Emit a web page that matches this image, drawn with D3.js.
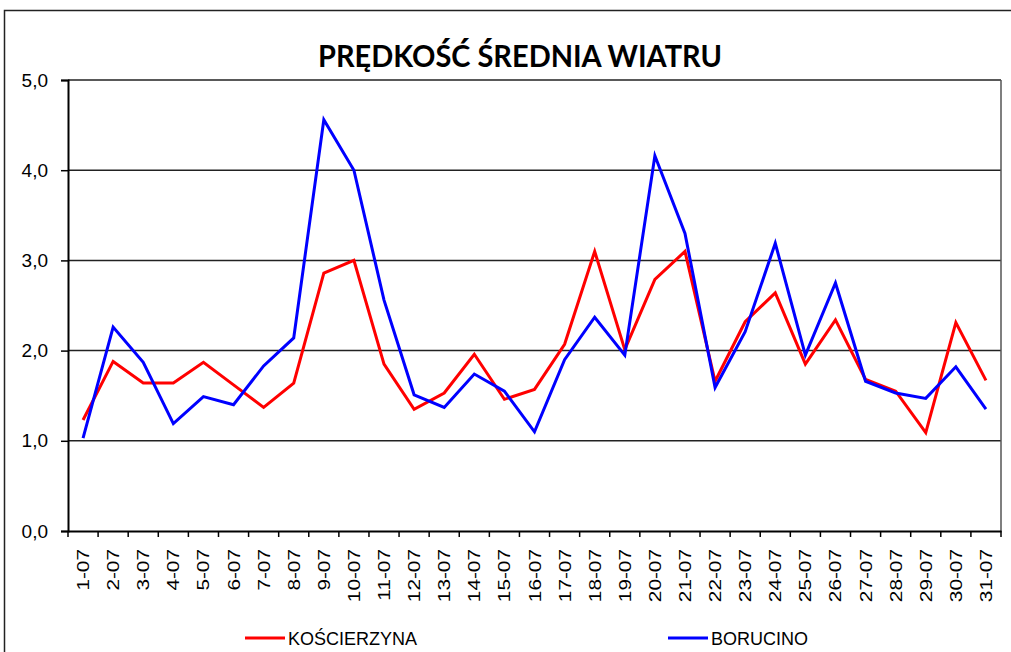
<!DOCTYPE html>
<html>
<head>
<meta charset="utf-8">
<script src="https://cdn.jsdelivr.net/npm/d3@7"></script>
<style>
  body { margin: 0; background: #fff; }
  svg { display: block; font-family: "Liberation Sans", Arial, sans-serif; }
</style>
</head>
<body>
<svg id="chart" width="1011" height="652"></svg>
<script>
// data
const days = ['1-07','2-07','3-07','4-07','5-07','6-07','7-07','8-07','9-07','10-07',
  '11-07','12-07','13-07','14-07','15-07','16-07','17-07','18-07','19-07','20-07',
  '21-07','22-07','23-07','24-07','25-07','26-07','27-07','28-07','29-07','30-07','31-07']
const koscierzyna = [1.23,1.88,1.64,1.64,1.87,1.62,1.37,1.64,2.86,3.00,
  1.85,1.35,1.53,1.96,1.46,1.57,2.07,3.10,2.01,2.79,
  3.10,1.66,2.32,2.64,1.85,2.34,1.68,1.55,1.09,2.31,1.67]
const borucino = [1.03,2.26,1.87,1.19,1.49,1.40,1.83,2.14,4.56,4.00,
  2.56,1.51,1.37,1.74,1.55,1.10,1.90,2.37,1.95,4.16,
  3.30,1.59,2.21,3.19,1.95,2.75,1.66,1.53,1.47,1.82,1.35]
const yTicks = [0,1,2,3,4,5]
const series = [
  { name: 'KOŚCIERZYNA', values: koscierzyna, color: '#ff0000' },
  { name: 'BORUCINO', values: borucino, color: '#0000ff' }
]

const svg = d3.select('#chart')
const plot = { left: 68, right: 1001, top: 80, bottom: 531 }

// outer chart frame
svg.append('rect')
  .attr('x', 4.5).attr('y', 10.5)
  .attr('width', 1020).attr('height', 660)
  .attr('fill', 'none').attr('stroke', '#222').attr('stroke-width', 1.5)

svg.append('text')
  .attr('x', 520).attr('y', 67)
  .attr('text-anchor', 'middle')
  .attr('font-family', 'Lato, "Open Sans", sans-serif')
  .attr('font-weight', 'bold').attr('font-size', 30)
  .attr('textLength', 404).attr('lengthAdjust', 'spacingAndGlyphs')
  .text('PRĘDKOŚĆ ŚREDNIA WIATRU')

const x = d3.scaleBand().domain(days).range([plot.left, plot.right])
const y = d3.scaleLinear().domain([0, 5]).range([plot.bottom, plot.top])

// gridlines
svg.append('g').selectAll('line')
  .data(yTicks.filter(d => d > 0))
  .join('line')
  .attr('x1', plot.left).attr('x2', plot.right)
  .attr('y1', d => y(d)).attr('y2', d => y(d))
  .attr('stroke', '#222').attr('stroke-width', 1.5)

// right border of plot area
svg.append('line')
  .attr('x1', plot.right).attr('x2', plot.right)
  .attr('y1', plot.top).attr('y2', plot.bottom)
  .attr('stroke', '#555').attr('stroke-width', 1.5)

// y axis
const yAxis = svg.append('g')
  .attr('transform', `translate(${plot.left},0)`)
  .call(d3.axisLeft(y).tickValues(yTicks).tickSize(7).tickPadding(13)
    .tickFormat(d => d3.format('.1f')(d).replace('.', ',')))
yAxis.select('.domain').attr('stroke', '#000').attr('stroke-width', 2)
yAxis.selectAll('.tick line').attr('stroke', '#000').attr('stroke-width', 1.5)
yAxis.selectAll('text').attr('font-size', 19).attr('fill', '#000')
  .attr('font-family', '"Liberation Sans", Arial, sans-serif')

// x axis: ticks sit on band boundaries
const xAxis = svg.append('g')
  .attr('transform', `translate(0,${plot.bottom})`)
  .call(d3.axisBottom(x).tickSize(0).tickFormat(''))
xAxis.select('.domain').attr('stroke', '#000').attr('stroke-width', 2)
xAxis.selectAll('.tick').remove()
const bounds = days.map(d => x(d)).concat([x(days[days.length - 1]) + x.bandwidth()])
xAxis.selectAll('line.sep')
  .data(bounds)
  .join('line')
  .attr('class', 'sep')
  .attr('x1', d => d).attr('x2', d => d)
  .attr('y1', 0).attr('y2', 6)
  .attr('stroke', '#000').attr('stroke-width', 1.5)
xAxis.selectAll('text.lbl')
  .data(days)
  .join('text')
  .attr('class', 'lbl')
  .attr('transform', d => `translate(${x(d) + x.bandwidth() / 2 + 6},${18}) rotate(-90) scale(1.3,1)`)
  .attr('text-anchor', 'end')
  .attr('font-size', 16)
  .attr('fill', '#000')
  .text(d => d)

// series lines
const line = d3.line()
  .x((d, i) => x(days[i]) + x.bandwidth() / 2)
  .y(d => y(d))
svg.append('g').selectAll('path')
  .data(series)
  .join('path')
  .attr('d', s => line(s.values))
  .attr('fill', 'none')
  .attr('stroke', s => s.color)
  .attr('stroke-width', 3)
  .attr('stroke-linejoin', 'miter')

// legend
const legendX = [245, 668]
const legend = svg.append('g').selectAll('g')
  .data(series)
  .join('g')
  .attr('transform', (s, i) => `translate(${legendX[i]},638)`)
legend.append('line')
  .attr('x1', 0).attr('x2', 40)
  .attr('stroke', s => s.color).attr('stroke-width', 3)
legend.append('text')
  .attr('x', 43).attr('y', 7)
  .attr('font-size', 18)
  .attr('fill', '#000')
  .text(s => s.name)
</script>
</body>
</html>
